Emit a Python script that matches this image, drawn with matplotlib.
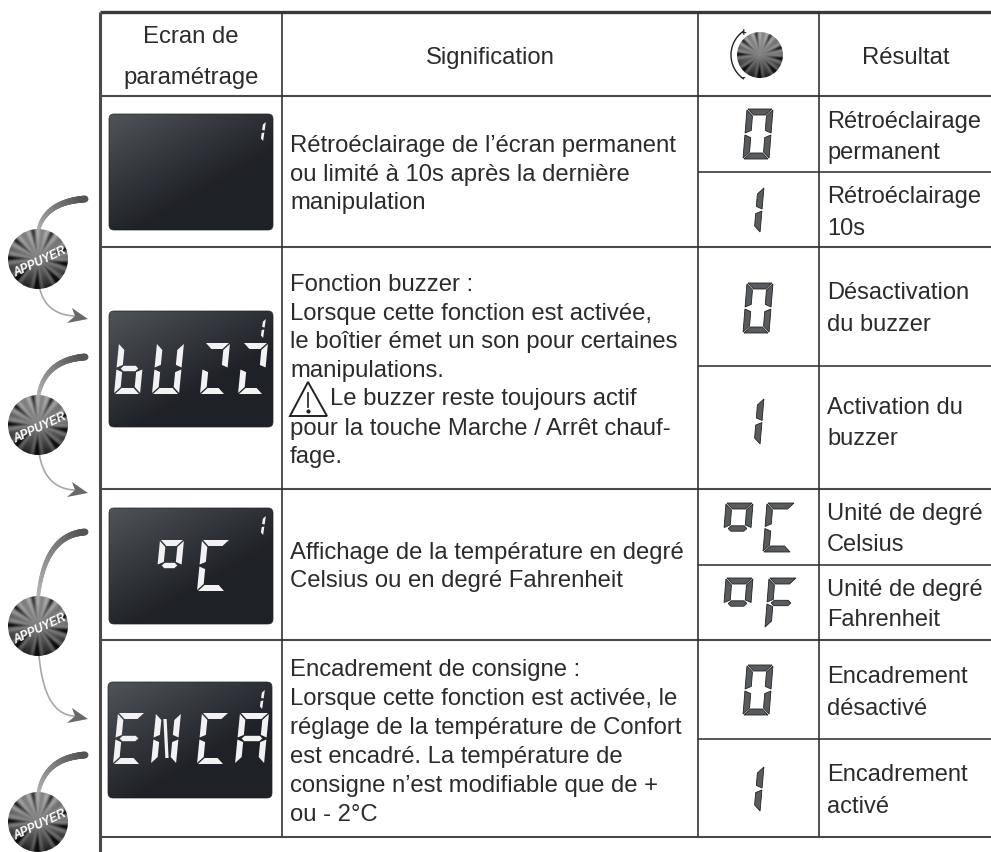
import numpy as np
import matplotlib
matplotlib.use('Agg')
import matplotlib.pyplot as plt
from matplotlib.collections import LineCollection
from matplotlib.patches import Circle, FancyBboxPatch, Polygon

plt.rcParams['font.family'] = ['Liberation Sans', 'DejaVu Sans']

# table text
header_left = ['Ecran de', 'paramétrage']
header_mid = 'Signification'
header_right = 'Résultat'
desc_lines = [
    'Rétroéclairage de l’écran permanent',
    'ou limité à 10s après la dernière',
    'manipulation',
    'Fonction buzzer :',
    'Lorsque cette fonction est activée,',
    'le boîtier émet un son pour certaines',
    'manipulations.',
    'Le buzzer reste toujours actif',
    'pour la touche Marche / Arrêt chauf-',
    'fage.',
    'Affichage de la température en degré',
    'Celsius ou en degré Fahrenheit',
    'Encadrement de consigne :',
    'Lorsque cette fonction est activée, le',
    'réglage de la température de Confort',
    'est encadré. La température de',
    'consigne n’est modifiable que de +',
    'ou - 2°C',
]
desc_y = [152, 181, 209, 291, 320, 348, 377, 405, 435, 463, 559, 587, 676, 705, 734, 763, 792, 821]
desc_x = [290] * 7 + [330] + [290] * 10
result_lines = [
    'Rétroéclairage', 'permanent', 'Rétroéclairage', '10s',
    'Désactivation', 'du buzzer', 'Activation du', 'buzzer',
    'Unité de degré', 'Celsius', 'Unité de degré', 'Fahrenheit',
    'Encadrement', 'désactivé', 'Encadrement', 'activé',
]
result_y = [128, 159, 203, 235, 299, 331, 414, 445, 520, 551, 596, 626, 683, 715, 781, 813]

# grid of the table
h_rules = [96, 247, 489, 640, 837]
sub_rules = [172, 366, 565, 739]
v_rules = [282, 698, 819]

# display panels (top, bottom) and the words on them
panel_top = [114, 311, 508, 682]
panel_left = [109, 109, 109, 108]
panel_words = [
    [],
    [('b', 114, 343, 26), ('U', 152, 343, 27), ('Z', 200, 343, 25), ('Z', 238, 343, 25)],
    [('o', 155, 540, 24), ('C', 197, 540, 28)],
    [('E', 113, 713, 27), ('N', 151, 713, 25), ('C', 197, 713, 27), ('A', 235, 713, 29)],
]

# glyphs in the result column: glyph, left, top, width, height
result_glyphs = [
    ('0', 743, 109, 26, 50), ('1', 734, 187, 26, 46),
    ('0', 743, 283, 26, 50), ('1', 734, 398, 26, 47),
    ('o', 722, 503, 27, 51), ('C', 763, 503, 28, 49),
    ('o', 722, 578, 27, 51), ('F', 765, 578, 28, 50),
    ('0', 743, 665, 26, 50), ('1', 734, 766, 26, 46),
]

glyph_segments = {
    '0': 'abcdef', '1': 'bc', 'b': 'cdefg', 'U': 'bcdef', 'Z': 'abde',
    'E': 'adefg', 'N': 'bcefh', 'C': 'adef', 'A': 'abcefg', 'F': 'aefg', 'o': 'abfg',
}

# button artwork
button_y = [259, 425, 626, 822]
button_x = 38
arc_start_y = [232, 398, 599, 795]
arc_end_y = [199, 357, 532, 755]
arrow_start_y = [285, 452, 655]
arrow_tip_y = [319, 493, 719]
ray_angles = [20, 62, 100, 140, 178, 222, 268, 312, 350]

fig = plt.figure(figsize=(9.91, 8.52), dpi=100)
ax = fig.add_axes([0, 0, 1, 1])
ax.set_axis_off()


def gradient_box(x0, y0, w, h):
    xx, yy = np.meshgrid(np.linspace(0, 1, 80), np.linspace(0, 1, 60))
    val = (xx * 0.45 + yy * 0.55)
    val = np.clip(val * 1.6, 0, 1)
    im = np.zeros((60, 80, 3))
    light = np.array([0.31, 0.33, 0.35])
    dark = np.array([0.12, 0.13, 0.15])
    for c in range(3):
        im[:, :, c] = light[c] + (dark[c] - light[c]) * val
    img = ax.imshow(im, extent=(x0, x0 + w, y0 + h, y0), aspect='auto', zorder=2)
    box = FancyBboxPatch((x0 + 4, y0 + 4), w - 8, h - 8, boxstyle='round,pad=4,rounding_size=5',
                         fc='none', ec='#222222', lw=0.5, zorder=3)
    ax.add_patch(box)
    img.set_clip_path(box)


def segment(name, w, h, t):
    g = 1.0
    m = h / 2
    if name == 'a':
        return [(g, 0), (w - g, 0), (w - g - t, t), (g + t, t)]
    if name == 'd':
        return [(g, h), (w - g, h), (w - g - t, h - t), (g + t, h - t)]
    if name == 'f':
        return [(0, g), (t, t + g), (t, m - t * 0.6), (0, m - g)]
    if name == 'e':
        return [(0, m + g), (t, m + t * 0.6), (t, h - t - g), (0, h - g)]
    if name == 'b':
        return [(w, g), (w - t, t + g), (w - t, m - t * 0.6), (w, m - g)]
    if name == 'c':
        return [(w, m + g), (w - t, m + t * 0.6), (w - t, h - t - g), (w, h - g)]
    if name == 'g':
        return [(t * 0.7, m), (t + 1, m - t * 0.45), (w - t - 1, m - t * 0.45), (w - t * 0.7, m),
                (w - t - 1, m + t * 0.45), (t + 1, m + t * 0.45)]
    if name == 'h':
        return [(w * 0.32, t), (w * 0.45, t), (w * 0.68, h - t), (w * 0.55, h - t)]


def draw_glyph(ch, x0, y0, w, h, t, slant, fc, ec, lw=0.0):
    for s in glyph_segments[ch]:
        pts = [(x0 + u + slant * (h - v) / h, y0 + v) for u, v in segment(s, w, h, t)]
        ax.add_patch(Polygon(pts, closed=True, fc=fc, ec=ec, lw=lw, zorder=4))


def bezier(p0, p1, p2, n=80):
    s = np.linspace(0, 1, n)[:, None]
    return (1 - s) ** 2 * np.array(p0) + 2 * s * (1 - s) * np.array(p1) + s ** 2 * np.array(p2)


def draw_button(cx, cy, r):
    n = 160
    xx, yy = np.meshgrid(np.linspace(-1, 1, n), np.linspace(-1, 1, n))
    rad = np.hypot(xx, yy)
    ang = np.degrees(np.arctan2(-yy, xx)) % 360
    # grey centre, darker towards the rim and the bottom
    val = 0.52 - 0.2 * rad + 0.2 * (-yy)
    for a in ray_angles:
        d = np.abs((ang - a + 180) % 360 - 180)
        val = val - 0.34 * np.clip(1 - d / 6, 0, 1) * np.clip(rad * 1.5 - 0.35, 0, 1)
        val = val + 0.16 * np.clip(1 - np.abs(d - 10) / 7, 0, 1) * np.clip(rad * 1.5 - 0.2, 0, 1)
    val = np.clip(val, 0.06, 0.8)
    img = ax.imshow(val, cmap='gray', vmin=0, vmax=1, extent=(cx - r, cx + r, cy + r, cy - r),
                    aspect='auto', zorder=5)
    clip = Circle((cx, cy), r, fc='none', ec='none', zorder=5)
    ax.add_patch(clip)
    img.set_clip_path(clip)


# table rules
for y in h_rules:
    ax.plot([100, 991], [y, y], color='#4a4a4a', lw=1.5, zorder=1, solid_capstyle='butt')
ax.plot([100, 991], [12, 12], color='#3a3a3a', lw=2.4, zorder=1, solid_capstyle='butt')
for y in sub_rules:
    ax.plot([698, 991], [y, y], color='#4a4a4a', lw=1.3, zorder=1, solid_capstyle='butt')
ax.plot([100, 100], [12, 852], color='#4a4a4a', lw=2.2, zorder=1, solid_capstyle='butt')
for x in v_rules:
    ax.plot([x, x], [12, 837], color='#333333', lw=1.2, zorder=1, solid_capstyle='butt')

# header
ax.text(191, 43, header_left[0], fontsize=17.2, color='#2b2b2b', ha='center', va='baseline')
ax.text(191, 84, header_left[1], fontsize=17.2, color='#2b2b2b', ha='center', va='baseline')
ax.text(490, 64, header_mid, fontsize=17.2, color='#2b2b2b', ha='center', va='baseline')
ax.text(906, 64, header_right, fontsize=17.2, color='#2b2b2b', ha='center', va='baseline')

# knob in the header
draw_button(760, 55, 23)
knob_ang = np.radians(np.linspace(125, 235, 30))
ax.plot(760 + 29 * np.cos(knob_ang), 55 - 29 * np.sin(knob_ang), color='#222222', lw=1.0, zorder=4)
ax.text(743, 33, '+', fontsize=7, fontweight='bold', color='#222222', ha='center', va='center')
ax.text(743, 78, '-', fontsize=8, fontweight='bold', color='#222222', ha='center', va='center')

# descriptions
for txt, x, y in zip(desc_lines, desc_x, desc_y):
    ax.text(x, y, txt, fontsize=17.2, color='#2b2b2b', ha='left', va='baseline')
for txt, y in zip(result_lines, result_y):
    ax.text(827, y, txt, fontsize=17, color='#2b2b2b', ha='left', va='baseline')

# warning sign
ax.add_patch(Polygon([(308, 382), (290, 416), (327, 416)], closed=True, fc='none', ec='#222222', lw=1.4, zorder=4))
ax.plot([308, 308], [393, 407], color='#222222', lw=1.2, zorder=4)
ax.plot([308], [411], 'o', color='#222222', ms=2, zorder=4)

# display panels
for top, left, word in zip(panel_top, panel_left, panel_words):
    gradient_box(left, top, 164, 116)
    draw_glyph('1', left + 128, top + 7, 26, 21, 2.6, 3, '#f2f2f2', 'none')
    for ch, gx, gy, gw in word:
        draw_glyph(ch, gx, gy, gw, 51, 6, 5, '#f2f2f2', 'none')

# glyphs of the result column
for ch, gx, gy, gw, gh in result_glyphs:
    draw_glyph(ch, gx, gy, gw, gh, 6, 4, '#585c5f', '#222222', 0.6)

# arcs, arrows and buttons on the left
for cy, y0, y1 in zip(button_y, arc_start_y, arc_end_y):
    pts = bezier((38, y0), (44, y1 + 3), (85, y1))
    segs = np.stack([pts[:-1], pts[1:]], axis=1)
    shade = np.linspace(0.72, 0.33, len(segs))
    widths = np.linspace(2.5, 5.0, len(segs))
    ax.add_collection(LineCollection(segs, colors=[(s, s, s) for s in shade], linewidths=widths,
                                     capstyle='round', zorder=3))
for y0, tip in zip(arrow_start_y, arrow_tip_y):
    pts = bezier((39, y0), (44, tip - 5), (74, tip - 3))
    ax.plot(pts[:, 0], pts[:, 1], color='#a8a8a8', lw=1.2, zorder=3)
    ax.add_patch(Polygon([(88, tip), (72, tip - 11), (75, tip - 3), (67, tip + 4)], closed=True,
                         fc='#666a6c', ec='none', zorder=4))
for cy in button_y:
    draw_button(button_x, cy, 30)
    ax.text(button_x + 2, cy + 3, 'APPUYER', fontsize=8.5, fontweight='bold', fontstyle='italic', color='white',
            ha='center', va='center', rotation=25, rotation_mode='anchor', zorder=6)

ax.set_xlim(0, 991)
ax.set_ylim(852, 0)
fig.savefig('out.png', dpi=100, facecolor='white')
